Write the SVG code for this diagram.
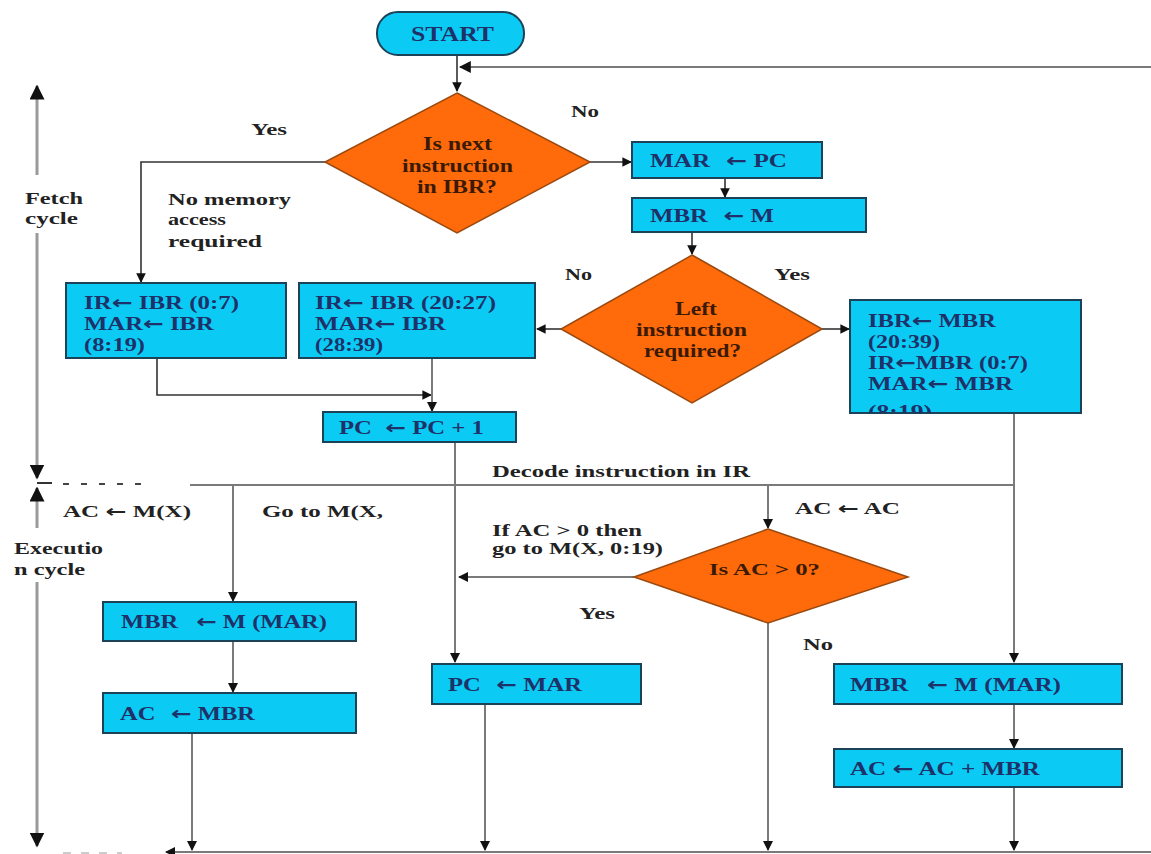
<svg xmlns="http://www.w3.org/2000/svg" width="1151" height="854" viewBox="0 0 1151 854">
<style>
.box{fill:#0BCBF5;stroke:#1B4257;stroke-width:2}
.dia{fill:#FF6A0A;stroke:#9A4A10;stroke-width:1.5}
.bt{font-family:"Liberation Serif",serif;font-weight:bold;font-size:19px;fill:#1E3168}
.bm{font-size:18.5px}
.dt{font-family:"Liberation Serif",serif;font-weight:bold;font-size:19px;fill:#3A1A05}
.lb{font-family:"Liberation Serif",serif;font-weight:bold;font-size:17px;fill:#222}
.ar{font-family:"DejaVu Sans",sans-serif;font-weight:bold}
.c{fill:none;stroke:#7a7a7a;stroke-width:2}
.cd{fill:none;stroke:#333;stroke-width:1.6}
.ax{fill:none;stroke:#9a9a9a;stroke-width:3}
</style>
<defs>
<marker id="ah" viewBox="0 0 10 10" refX="9" refY="5" markerWidth="5" markerHeight="5" orient="auto" markerUnits="strokeWidth"><path d="M0,0 L10,5 L0,10 z" fill="#111"/></marker>
<marker id="ahs" viewBox="0 0 10 10" refX="9" refY="5" markerWidth="6" markerHeight="6" orient="auto" markerUnits="strokeWidth"><path d="M0,0 L10,5 L0,10 z" fill="#111"/></marker>
<clipPath id="rbclip"><rect x="850" y="300" width="231" height="113"/></clipPath>
</defs>
<rect width="1151" height="854" fill="#fff"/>

<g id="connectors">
<path class="cd" d="M457,55 V91" marker-end="url(#ahs)"/>
<path class="c" d="M1151,67 H460" marker-end="url(#ahs)"/>
<path class="cd" d="M325,162 H141 V282" marker-end="url(#ahs)"/>
<path class="cd" d="M590,162 H631" marker-end="url(#ahs)"/>
<path class="cd" d="M725,178 V197" marker-end="url(#ahs)"/>
<path class="cd" d="M692,232 V254" marker-end="url(#ahs)"/>
<path class="cd" d="M561,329 H537" marker-end="url(#ahs)"/>
<path class="cd" d="M822,329 H849" marker-end="url(#ahs)"/>
<path class="cd" d="M157,358 V395 H431" marker-end="url(#ahs)"/>
<path class="c" d="M432,358 V411" marker-end="url(#ah)"/>
<path class="c" d="M455,442 V662" marker-end="url(#ah)"/>
<path class="c" d="M1014,413 V662" marker-end="url(#ah)"/>
<path class="c" d="M190,485 H1014"/>
<path class="c" d="M233,485 V601" marker-end="url(#ah)"/>
<path class="c" d="M768,485 V528" marker-end="url(#ah)"/>
<path class="c" d="M634,577 H459" marker-end="url(#ah)"/>
<path class="c" d="M768,623 V850" marker-end="url(#ah)"/>
<path class="c" d="M233,641 V692" marker-end="url(#ah)"/>
<path class="c" d="M192,733 V850" marker-end="url(#ah)"/>
<path class="c" d="M485,704 V850" marker-end="url(#ah)"/>
<path class="c" d="M1014,704 V748" marker-end="url(#ah)"/>
<path class="c" d="M1014,787 V850" marker-end="url(#ah)"/>
<path class="c" d="M1151,852 H166" marker-end="url(#ah)"/>
<path class="ax" d="M37,175 V86" marker-end="url(#ah)"/>
<path class="ax" d="M37,233 V478" marker-end="url(#ah)"/>
<path class="ax" d="M37,528 V488" marker-end="url(#ah)"/>
<path class="ax" d="M37,582 V846" marker-end="url(#ah)"/>
<path d="M37,483 H52" stroke="#333" stroke-width="2"/>
<path d="M63,484 H152" stroke="#444" stroke-width="2" stroke-dasharray="6,12"/>
<path d="M63,853 H122" stroke="#ccc" stroke-width="2" stroke-dasharray="8,10"/>
</g>

<g id="start">
<rect x="377" y="12" width="147" height="43" rx="21" fill="#0BCBF5" stroke="#1B4257" stroke-width="2"/>
<text x="411" y="41" class="bt" style="font-size:20px" textLength="83" lengthAdjust="spacingAndGlyphs">START</text>
</g>

<g id="d1">
<polygon class="dia" points="457,93 590,162 457,233 325,162"/>
<text class="dt" x="423" y="150" textLength="69" lengthAdjust="spacingAndGlyphs">Is next</text>
<text class="dt" x="402" y="172" textLength="111" lengthAdjust="spacingAndGlyphs">instruction</text>
<text class="dt" x="417" y="193" textLength="80" lengthAdjust="spacingAndGlyphs">in IBR?</text>
</g>

<g id="mar-pc">
<rect class="box" x="632" y="142" width="190" height="36"/>
<text class="bt" x="650" y="167" textLength="137" lengthAdjust="spacingAndGlyphs">MAR<tspan dx="12" class="ar">←</tspan> PC</text>
</g>

<g id="mbr-m">
<rect class="box" x="632" y="198" width="234" height="34"/>
<text class="bt" x="650" y="222" textLength="124" lengthAdjust="spacingAndGlyphs">MBR<tspan dx="12" class="ar">←</tspan> M</text>
</g>

<g id="d2">
<polygon class="dia" points="692,255 822,329 692,403 561,329"/>
<text class="dt" x="675" y="315" textLength="42" lengthAdjust="spacingAndGlyphs">Left</text>
<text class="dt" x="636" y="336" textLength="111" lengthAdjust="spacingAndGlyphs">instruction</text>
<text class="dt" x="644" y="357" textLength="97" lengthAdjust="spacingAndGlyphs">required?</text>
</g>

<g id="box1">
<rect class="box" x="66" y="283" width="220" height="75"/>
<text class="bt bm" x="84" y="309" textLength="155" lengthAdjust="spacingAndGlyphs">IR<tspan class="ar">←</tspan> IBR (0:7)</text>
<text class="bt bm" x="84" y="330" textLength="130" lengthAdjust="spacingAndGlyphs">MAR<tspan class="ar">←</tspan> IBR</text>
<text class="bt bm" x="84" y="351" textLength="61" lengthAdjust="spacingAndGlyphs">(8:19)</text>
</g>

<g id="box2">
<rect class="box" x="299" y="283" width="236" height="75"/>
<text class="bt bm" x="315" y="309" textLength="181" lengthAdjust="spacingAndGlyphs">IR<tspan class="ar">←</tspan> IBR (20:27)</text>
<text class="bt bm" x="315" y="330" textLength="131" lengthAdjust="spacingAndGlyphs">MAR<tspan class="ar">←</tspan> IBR</text>
<text class="bt bm" x="315" y="351" textLength="68" lengthAdjust="spacingAndGlyphs">(28:39)</text>
</g>

<g id="box3">
<rect class="box" x="850" y="300" width="231" height="113"/>
<g clip-path="url(#rbclip)">
<text class="bt bm" x="868" y="327" textLength="128" lengthAdjust="spacingAndGlyphs">IBR<tspan class="ar">←</tspan> MBR</text>
<text class="bt bm" x="868" y="348" textLength="72" lengthAdjust="spacingAndGlyphs">(20:39)</text>
<text class="bt bm" x="868" y="369" textLength="160" lengthAdjust="spacingAndGlyphs">IR<tspan class="ar">←</tspan>MBR (0:7)</text>
<text class="bt bm" x="868" y="390" textLength="145" lengthAdjust="spacingAndGlyphs">MAR<tspan class="ar">←</tspan> MBR</text>
<text class="bt bm" x="868" y="418" textLength="64" lengthAdjust="spacingAndGlyphs">(8:19)</text>
</g>
</g>

<g id="pc-inc">
<rect class="box" x="323" y="412" width="193" height="30"/>
<text class="bt bm" x="339" y="434" textLength="145" lengthAdjust="spacingAndGlyphs">PC<tspan dx="10" class="ar">←</tspan> PC + 1</text>
</g>

<g id="labels">
<text class="lb" x="251" y="135" textLength="36" lengthAdjust="spacingAndGlyphs">Yes</text>
<text class="lb" x="571" y="117" textLength="28" lengthAdjust="spacingAndGlyphs">No</text>
<text class="lb" x="168" y="205" textLength="123" lengthAdjust="spacingAndGlyphs">No memory</text>
<text class="lb" x="168" y="225" textLength="58" lengthAdjust="spacingAndGlyphs">access</text>
<text class="lb" x="168" y="247" textLength="94" lengthAdjust="spacingAndGlyphs">required</text>
<text class="lb" x="25" y="204" textLength="58" lengthAdjust="spacingAndGlyphs">Fetch</text>
<text class="lb" x="25" y="224" textLength="53" lengthAdjust="spacingAndGlyphs">cycle</text>
<text class="lb" x="565" y="280" textLength="27" lengthAdjust="spacingAndGlyphs">No</text>
<text class="lb" x="774" y="280" textLength="36" lengthAdjust="spacingAndGlyphs">Yes</text>
<text class="lb" x="492" y="477" textLength="258" lengthAdjust="spacingAndGlyphs">Decode instruction in IR</text>
<text class="lb" x="63" y="517" textLength="128" lengthAdjust="spacingAndGlyphs">AC <tspan class="ar">←</tspan> M(X)</text>
<text class="lb" x="262" y="517" textLength="121" lengthAdjust="spacingAndGlyphs">Go to M(X,</text>
<text class="lb" x="795" y="514" textLength="105" lengthAdjust="spacingAndGlyphs">AC <tspan class="ar">←</tspan> AC</text>
<text class="lb" x="492" y="536" style="font-size:16px" textLength="150" lengthAdjust="spacingAndGlyphs">If AC &gt; 0 then</text>
<text class="lb" x="492" y="554" style="font-size:16px" textLength="171" lengthAdjust="spacingAndGlyphs">go to M(X, 0:19)</text>
<text class="lb" x="14" y="554" textLength="89" lengthAdjust="spacingAndGlyphs">Executio</text>
<text class="lb" x="14" y="575" textLength="71" lengthAdjust="spacingAndGlyphs">n cycle</text>
<text class="lb" x="579" y="619" textLength="36" lengthAdjust="spacingAndGlyphs">Yes</text>
<text class="lb" x="803" y="650" textLength="30" lengthAdjust="spacingAndGlyphs">No</text>
</g>

<g id="d3">
<polygon class="dia" points="768,529 908,577 768,623 634,577"/>
<text class="dt" x="709" y="575" style="font-size:17px" textLength="111" lengthAdjust="spacingAndGlyphs">Is AC &gt; 0?</text>
</g>

<g id="mbr-mmar-l">
<rect class="box" x="103" y="602" width="253" height="39"/>
<text class="bt" x="121" y="628" textLength="206" lengthAdjust="spacingAndGlyphs">MBR<tspan dx="14" class="ar">←</tspan> M (MAR)</text>
</g>

<g id="ac-mbr">
<rect class="box" x="103" y="693" width="253" height="40"/>
<text class="bt" x="120" y="720" textLength="135" lengthAdjust="spacingAndGlyphs">AC<tspan dx="12" class="ar">←</tspan> MBR</text>
</g>

<g id="pc-mar">
<rect class="box" x="432" y="664" width="209" height="40"/>
<text class="bt" x="448" y="691" textLength="134" lengthAdjust="spacingAndGlyphs">PC<tspan dx="12" class="ar">←</tspan> MAR</text>
</g>

<g id="mbr-mmar-r">
<rect class="box" x="834" y="664" width="288" height="40"/>
<text class="bt" x="850" y="691" textLength="211" lengthAdjust="spacingAndGlyphs">MBR<tspan dx="14" class="ar">←</tspan> M (MAR)</text>
</g>

<g id="ac-add">
<rect class="box" x="834" y="749" width="288" height="38"/>
<text class="bt" x="850" y="775" textLength="190" lengthAdjust="spacingAndGlyphs">AC <tspan class="ar">←</tspan> AC + MBR</text>
</g>
</svg>
